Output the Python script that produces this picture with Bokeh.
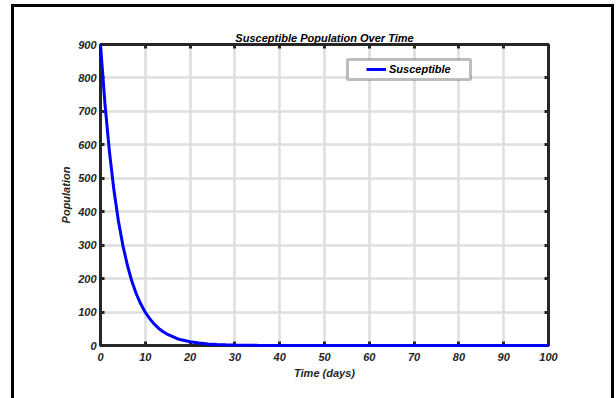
from bokeh.plotting import figure
from bokeh.models import (Range1d, FixedTicker, LinearAxis, BoxAnnotation,
                          Legend, LegendItem, CustomLabelingPolicy)
from bokeh.embed import file_html
from bokeh.resources import INLINE

# ---- data ----
time_days = [0, 1, 2, 3, 4, 5, 6, 7, 8, 9, 10, 11, 12, 13, 14, 15, 16, 17, 18, 19,
             20, 22, 24, 26, 28, 30, 35, 40, 50, 60, 70, 80, 90, 100]
susceptible = [900, 722, 579, 464, 372, 299, 240, 192, 154, 124, 99, 80, 64, 51, 41,
               33, 27, 21, 17, 14, 11, 7.2, 4.6, 3.0, 1.9, 1.2, 0.4, 0.1, 0, 0, 0, 0, 0, 0]
x_ticks = [0, 10, 20, 30, 40, 50, 60, 70, 80, 90, 100]
y_ticks = [0, 100, 200, 300, 400, 500, 600, 700, 800, 900]

FONT = "Liberation Sans"
DARK = "#262626"

# figure placed at (14, 7) on the page; a black CSS outline just outside it
# forms the picture's border
p = figure(width=597, height=395, output_backend="svg", toolbar_location=None,
           x_range=Range1d(0, 100), y_range=Range1d(0, 900),
           min_border_left=86, min_border_right=63, min_border_top=37, min_border_bottom=57,
           title="Susceptible Population Over Time")
p.margin = (7, 0, 0, 14)
p.styles = {"outline": "3px solid #000000", "outline-offset": "0px"}
p.background_fill_color = "white"
p.border_fill_color = "white"
p.outline_line_color = DARK
p.outline_line_width = 3

p.title.text_font = FONT
p.title.text_font_size = "11px"
p.title.text_font_style = "bold italic"
p.title.text_color = "#000000"
p.title.align = "center"
p.title.standoff = 1

def style_axis(ax, label_size="11px"):
    ax.axis_line_color = DARK
    ax.axis_line_width = 3
    ax.major_tick_in = 4
    ax.major_tick_out = 0
    ax.major_tick_line_width = 3
    ax.major_tick_line_color = DARK
    ax.minor_tick_line_color = None
    ax.major_label_text_font = FONT
    ax.major_label_text_font_size = label_size
    ax.major_label_text_font_style = "bold italic"
    ax.major_label_text_color = DARK
    ax.axis_label_text_font = FONT
    ax.axis_label_text_font_size = "11px"
    ax.axis_label_text_font_style = "bold italic"
    ax.axis_label_text_color = DARK

p.xaxis.ticker = FixedTicker(ticks=x_ticks)
p.yaxis.ticker = FixedTicker(ticks=y_ticks)
p.xaxis.axis_label = "Time (days)"
p.yaxis.axis_label = "Population"
for ax in p.xaxis + p.yaxis:
    style_axis(ax)
p.xaxis.major_label_standoff = 7
p.xaxis.axis_label_standoff = 3
p.yaxis.major_label_standoff = 4
p.yaxis.axis_label_standoff = 3

# top/right axes: inward ticks only, no labels drawn
no_labels = CustomLabelingPolicy(code="return new Set()")
top_ax = LinearAxis(ticker=FixedTicker(ticks=x_ticks), major_label_policy=no_labels)
right_ax = LinearAxis(ticker=FixedTicker(ticks=y_ticks), major_label_policy=no_labels)
for ax in (top_ax, right_ax):
    style_axis(ax, label_size="0px")
    ax.major_label_standoff = 0
p.add_layout(top_ax, "above")
p.add_layout(right_ax, "right")

p.xgrid.ticker = FixedTicker(ticks=x_ticks)
p.ygrid.ticker = FixedTicker(ticks=y_ticks)
for g in (p.xgrid, p.ygrid):
    g.grid_line_color = "#dedede"
    g.grid_line_width = 2.5

r = p.line(time_days, susceptible, line_color="#0000ff", line_width=3)
r.level = "overlay"

# legend box (frame-relative screen units, y measured up from frame bottom)
legend_box = BoxAnnotation(left=247, right=370, bottom=266, top=286,
                           left_units="screen", right_units="screen",
                           top_units="screen", bottom_units="screen",
                           fill_color="white", fill_alpha=1.0,
                           line_color=DARK, line_width=3, level="annotation")
p.add_layout(legend_box, "center")

legend = Legend(items=[LegendItem(label="Susceptible", renderers=[r])],
                location=(264, 267), padding=2, margin=0, spacing=0,
                glyph_width=20, glyph_height=14, label_height=14, label_standoff=3,
                background_fill_alpha=0, border_line_alpha=0,
                label_text_font=FONT, label_text_font_size="11px",
                label_text_font_style="bold italic", label_text_color="#000000")
p.add_layout(legend, "center")

open("out.html", "w").write(file_html(p, INLINE))
